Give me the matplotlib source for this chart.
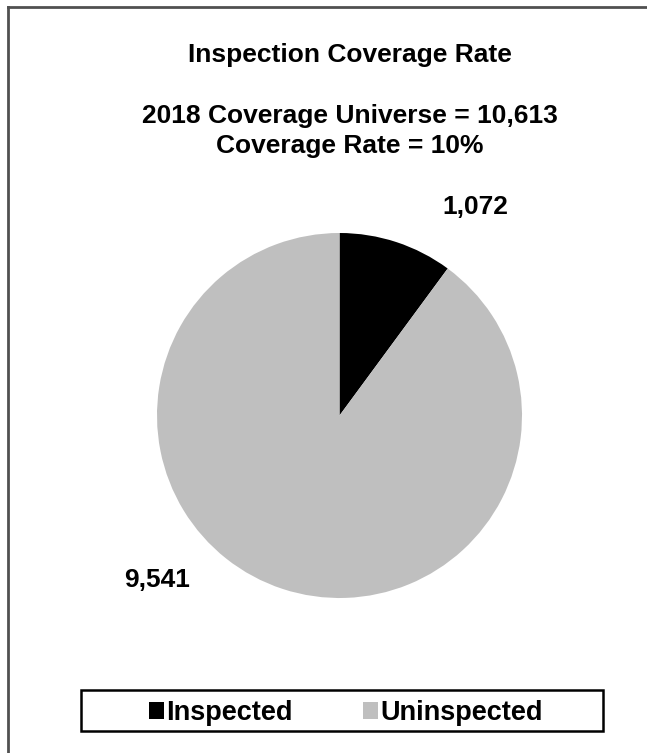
import matplotlib.pyplot as plt
from matplotlib.lines import Line2D
from matplotlib.patches import Rectangle

plt.rcParams['font.family'] = ['Liberation Sans', 'DejaVu Sans']

# data
categories = ['Inspected', 'Uninspected']
counts = [1072, 9541]
colors = ['#000000', '#bfbfbf']
universe_year = 2018

total = sum(counts)
rate = counts[0] / total

W, H = 647, 753
fig = plt.figure(figsize=(W / 100, H / 100), dpi=100)

# outer chart frame (only top and left edges fall inside the picture)
fig.add_artist(Line2D([8 / W, 1.0], [1 - 7 / H, 1 - 7 / H], color='#505050', lw=2))
fig.add_artist(Line2D([8 / W, 8 / W], [1 - 7 / H, 0.0], color='#505050', lw=2))

ax = fig.add_axes([157 / W, 155 / H, 365 / W, 365 / H])
wedges, _ = ax.pie(counts, colors=colors, startangle=90, counterclock=False,
                   radius=1.0, wedgeprops=dict(linewidth=0))
ax.set_xlim(-1, 1)
ax.set_ylim(-1, 1)
ax.set_aspect('equal')
ax.axis('off')

fs = 19
fig.text(350 / W, 1 - 55 / H, 'Inspection Coverage Rate', ha='center', va='center',
         fontsize=fs, fontweight='bold')
fig.text(350 / W, 1 - 131 / H,
         f'{universe_year} Coverage Universe = {total:,}\nCoverage Rate = {rate:.0%}',
         ha='center', va='center', fontsize=fs, fontweight='bold', linespacing=1.32)

# data labels
fig.text(475 / W, 1 - 207 / H, f'{counts[0]:,}', ha='center', va='center',
         fontsize=fs, fontweight='bold')
fig.text(157 / W, 1 - 580 / H, f'{counts[1]:,}', ha='center', va='center',
         fontsize=fs, fontweight='bold')

# legend with its own box
fig.add_artist(Rectangle((81 / W, 1 - 731 / H), 522 / W, 41 / H, transform=fig.transFigure,
                         fill=False, edgecolor='black', lw=1.8))
fig.legend(wedges, categories, loc='center', bbox_to_anchor=(346 / W, 1 - 713 / H),
           ncol=2, frameon=False, handlelength=0.55, handleheight=0.55,
           handletextpad=0.08, columnspacing=2.6,
           prop=dict(size=19.5, weight='bold'))

fig.savefig('out.png', dpi=100)
